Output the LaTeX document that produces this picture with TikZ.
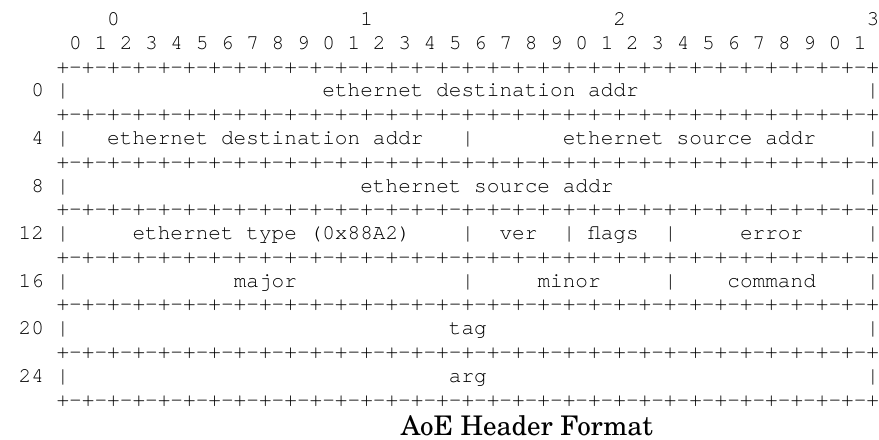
\documentclass[tikz,border=0pt]{standalone}
\usepackage{fontspec}
\setmonofont{texgyrecursor-regular.otf}
\newfontfamily\capfont{texgyreschola-regular.otf}
\newcommand{\dashrun}{-+-+-+-+}
\newcommand{\border}{+\dashrun\dashrun\dashrun\dashrun\dashrun\dashrun\dashrun\dashrun}

\begin{document}
\begin{tikzpicture}[x=6.415pt, y=-12.05pt, font=\ttfamily\fontsize{10.69}{12}\selectfont]
    \tikzstyle{glyph}=[inner sep=0pt, outer sep=0pt, anchor=base west]
    \tikzstyle{rowno}=[inner sep=0pt, outer sep=0pt, anchor=base east]

    \useasboundingbox (-0.47,-1.08) rectangle (68.98,17.39);

    % bit ruler
    \foreach \d in {0,...,3}
        \node[glyph] (top\d) at (8+20*\d, 0) {\d};
    \foreach \b in {0,...,31} {
        \pgfmathtruncatemacro{\digit}{mod(\b,10)}
        \node[glyph] (bit\b) at (5+2*\b, 1) {\digit};
    }

    % separator lines
    \foreach \l in {2,4,...,16}
        \node[glyph] (rule\l) at (4, \l) {\border};

    % word offsets and outer bars
    \foreach \l/\off in {3/0, 5/4, 7/8, 9/12, 11/16, 13/20, 15/24} {
        \node[rowno] (off\off) at (3, \l) {\off};
        \node[glyph] (left\off) at (4, \l) {|};
        \node[glyph] (right\off) at (68, \l) {|};
    }
    % inner bars
    \foreach \c/\l [count=\k] in {36/5, 36/9, 44/9, 52/9, 36/11, 52/11}
        \node[glyph] (mid\k) at (\c, \l) {|};

    % fields
    \node[glyph] (dst0) at (25, 3) {ethernet destination addr};
    \node[glyph] (dst4) at (8, 5) {ethernet destination addr};
    \node[glyph] (src4) at (44, 5) {ethernet source addr};
    \node[glyph] (src8) at (28, 7) {ethernet source addr};
    \node[glyph] (etype) at (10, 9) {ethernet type (0x88A2)};
    \node[glyph] (ver) at (39, 9) {ver};
    \node[glyph] (flags) at (46, 9) {flags};
    \node[glyph] (error) at (58, 9) {error};
    \node[glyph] (major) at (18, 11) {major};
    \node[glyph] (minor) at (42, 11) {minor};
    \node[glyph] (command) at (57, 11) {command};
    \node[glyph] (tag) at (35, 13) {tag};
    \node[glyph] (arg) at (35, 15) {arg};

    \node[inner sep=0pt, anchor=base, font=\capfont\fontsize{13.7}{16}\selectfont] (caption) at (41.16, 17.25) {AoE Header Format};
\end{tikzpicture}
\end{document}
